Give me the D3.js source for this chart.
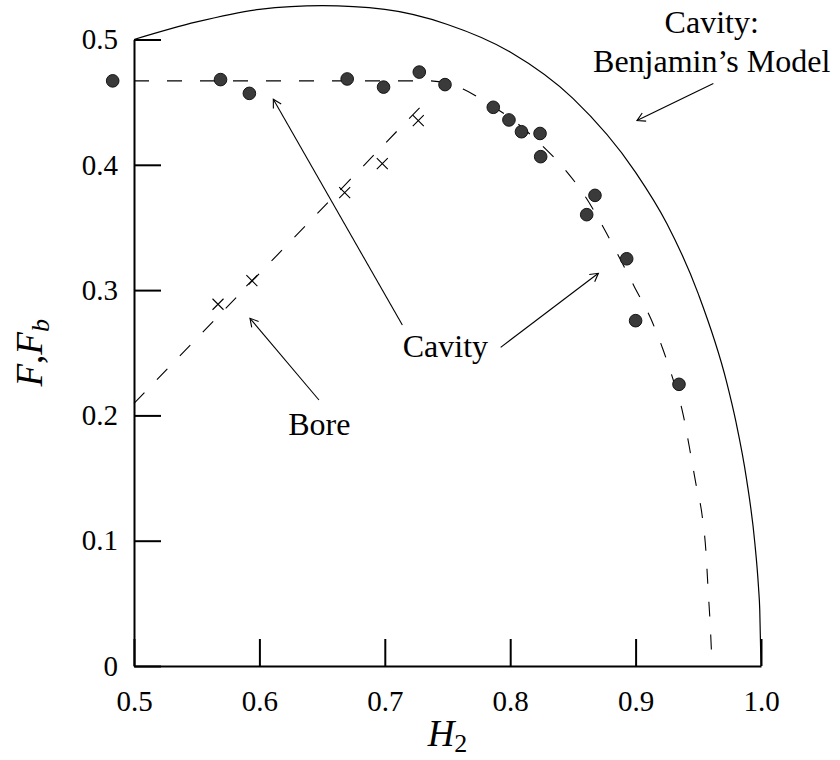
<!DOCTYPE html>
<html>
<head>
<meta charset="utf-8">
<script src="https://cdn.jsdelivr.net/npm/d3@7"></script>
<style>
  body { margin: 0; background: #fff; }
  svg text { font-family: "Liberation Serif", "DejaVu Serif", serif; }
</style>
</head>
<body>
<div id="chart"></div>
<script>
// Cavity measurements (filled circles)
const cavityH = [0.483, 0.569, 0.592, 0.670, 0.699, 0.7275, 0.748, 0.7865, 0.799, 0.809, 0.8238, 0.8243, 0.861, 0.8676, 0.8929, 0.900, 0.9346];
const cavityF = [0.467, 0.468, 0.457, 0.4685, 0.462, 0.474, 0.464, 0.4459, 0.4358, 0.4264, 0.425, 0.4065, 0.3602, 0.3756, 0.325, 0.2756, 0.2248];

// Bore measurements (crosses)
const boreH = [0.567, 0.594, 0.668, 0.698, 0.7267];
const boreF = [0.2887, 0.3075, 0.3778, 0.401, 0.4352];

// dashed cavity curve
const cavityLineH = [0.5, 0.735, 0.7624, 0.780, 0.804, 0.825, 0.844, 0.860, 0.874, 0.886, 0.899, 0.912, 0.922, 0.930, 0.938, 0.943, 0.948, 0.953, 0.956, 0.958, 0.9593, 0.961];
const cavityLineF = [0.467, 0.467, 0.4605, 0.4504, 0.4344, 0.4158, 0.3958, 0.3745, 0.3506, 0.328, 0.3027, 0.2775, 0.2522, 0.2283, 0.2003, 0.174, 0.146, 0.1205, 0.0926, 0.058, 0.0367, 0];

// dashed bore line
const boreLineH = [0.5, 0.733];
const boreLineF = [0.2096, 0.451];

// Benjamin's model (solid curve)
const benjaminH = [0.5, 0.55, 0.6, 0.65, 0.7, 0.75, 0.8, 0.85, 0.9, 0.925, 0.95, 0.9725, 0.98, 0.9885, 0.995, 0.998, 0.999, 1.0];
const benjaminF = [0.5, 0.514, 0.524, 0.527, 0.524, 0.512, 0.490, 0.453, 0.394, 0.353, 0.297, 0.227, 0.195, 0.149, 0.099, 0.063, 0.045, 0];

// ticks
const xTicks = [0.5, 0.6, 0.7, 0.8, 0.9, 1.0];
const xTickLabels = ["0.5", "0.6", "0.7", "0.8", "0.9", "1.0"];
const yTicks = [0, 0.1, 0.2, 0.3, 0.4, 0.5];
const yTickLabels = ["0", "0.1", "0.2", "0.3", "0.4", "0.5"];

const serif = '"Liberation Serif", "DejaVu Serif", serif';

const svg = d3.select("#chart")
  .append("svg")
  .attr("width", 840)
  .attr("height", 760)
  .style("background-color", "white");

const x = d3.scaleLinear().domain([0.5, 1.0]).range([134, 761]);
const y = d3.scaleLinear().domain([0, 0.5]).range([666, 39.5]);

// axes, ticks pointing inwards
svg.append("g")
  .attr("transform", `translate(0,${y(0)})`)
  .call(d3.axisBottom(x).tickValues(xTicks).tickFormat((d, i) => xTickLabels[i])
    .tickSize(-27).tickSizeOuter(0).tickPadding(24))
  .attr("font-family", null)
  .attr("font-size", 29)
  .call(g => g.selectAll("line, path").attr("stroke", "#000").attr("stroke-width", 2))
  .call(g => g.selectAll("text").attr("fill", "#000").style("font-family", serif));

svg.append("g")
  .attr("transform", `translate(${x(0.5)},0)`)
  .call(d3.axisLeft(y).tickValues(yTicks).tickFormat((d, i) => yTickLabels[i])
    .tickSize(-27).tickSizeOuter(0).tickPadding(16))
  .attr("font-family", null)
  .attr("font-size", 29)
  .call(g => g.selectAll("line, path").attr("stroke", "#000").attr("stroke-width", 2))
  .call(g => g.selectAll("text").attr("fill", "#000").style("font-family", serif));

// curves
const line = d3.line()
  .x(d => x(d[0]))
  .y(d => y(d[1]))
  .curve(d3.curveMonotoneX);

svg.append("path")
  .datum(benjaminH.map((h, i) => [h, benjaminF[i]]))
  .attr("d", line)
  .attr("fill", "none")
  .attr("stroke", "#000")
  .attr("stroke-width", 1.2);

svg.append("path")
  .datum(cavityLineH.map((h, i) => [h, cavityLineF[i]]))
  .attr("d", line)
  .attr("fill", "none")
  .attr("stroke", "#000")
  .attr("stroke-width", 1.1)
  .attr("stroke-dasharray", "15,18");

svg.append("path")
  .datum(boreLineH.map((h, i) => [h, boreLineF[i]]))
  .attr("d", d3.line().x(d => x(d[0])).y(d => y(d[1])))
  .attr("fill", "none")
  .attr("stroke", "#000")
  .attr("stroke-width", 1.1)
  .attr("stroke-dasharray", "15,18");

// bore crosses
svg.append("g")
  .selectAll("path")
  .data(boreH.map((h, i) => [h, boreF[i]]))
  .join("path")
  .attr("d", d => {
    const cx = x(d[0]), cy = y(d[1]), s = 5.5;
    return `M${cx - s},${cy - s}L${cx + s},${cy + s}M${cx - s},${cy + s}L${cx + s},${cy - s}`;
  })
  .attr("stroke", "#000")
  .attr("stroke-width", 1.1);

// cavity circles
svg.append("g")
  .selectAll("circle")
  .data(cavityH.map((h, i) => [h, cavityF[i]]))
  .join("circle")
  .attr("cx", d => x(d[0]))
  .attr("cy", d => y(d[1]))
  .attr("r", 6.3)
  .attr("fill", "#3a3a3a")
  .attr("stroke", "#151515")
  .attr("stroke-width", 1);

// arrows
svg.append("defs").append("marker")
  .attr("id", "head")
  .attr("markerUnits", "userSpaceOnUse")
  .attr("markerWidth", 20)
  .attr("markerHeight", 20)
  .attr("viewBox", "-10 -10 20 20")
  .attr("refX", 0)
  .attr("refY", 0)
  .attr("orient", "auto")
  .append("path")
  .attr("d", "M-8,-4.5L0,0L-8,4.5")
  .attr("fill", "none")
  .attr("stroke", "#000")
  .attr("stroke-width", 1.1);

const arrows = [
  [0.714, 0.2721, 0.6111, 0.4523],
  [0.7924, 0.2543, 0.8703, 0.3134],
  [0.6475, 0.2123, 0.5925, 0.2775],
  [0.962, 0.4649, 0.9011, 0.4353]
];

svg.append("g")
  .selectAll("line")
  .data(arrows)
  .join("line")
  .attr("x1", d => x(d[0]))
  .attr("y1", d => y(d[1]))
  .attr("x2", d => x(d[2]))
  .attr("y2", d => y(d[3]))
  .attr("stroke", "#000")
  .attr("stroke-width", 1.1)
  .attr("marker-end", "url(#head)");

// annotation labels
const label = (txt, h, f, anchor) => svg.append("text")
  .attr("x", x(h))
  .attr("y", y(f))
  .attr("text-anchor", anchor)
  .style("font-family", serif)
  .attr("font-size", 32)
  .text(txt);

label("Cavity", 0.7143, 0.2468, "start");
label("Bore", 0.623, 0.1844, "start");
label("Cavity:", 0.9607, 0.5052, "middle");
label("Benjamin\u2019s Model", 0.9607, 0.4743, "middle");

// axis titles
const xTitle = svg.append("text")
  .attr("x", (x(0.5) + x(1.0)) / 2)
  .attr("y", 746)
  .attr("text-anchor", "middle")
  .style("font-family", serif)
  .attr("font-size", 37);
xTitle.append("tspan").attr("font-style", "italic").text("H");
xTitle.append("tspan").attr("font-size", 26).attr("dy", 6).text("2");

const yTitle = svg.append("text")
  .attr("transform", `translate(42,${(y(0) + y(0.5)) / 2}) rotate(-90)`)
  .attr("text-anchor", "middle")
  .style("font-family", serif)
  .attr("font-size", 37);
yTitle.append("tspan").attr("font-style", "italic").text("F");
yTitle.append("tspan").text(",");
yTitle.append("tspan").attr("font-style", "italic").text("F");
yTitle.append("tspan").attr("font-style", "italic").attr("font-size", 26).attr("dy", 7).text("b");
</script>
</body>
</html>
